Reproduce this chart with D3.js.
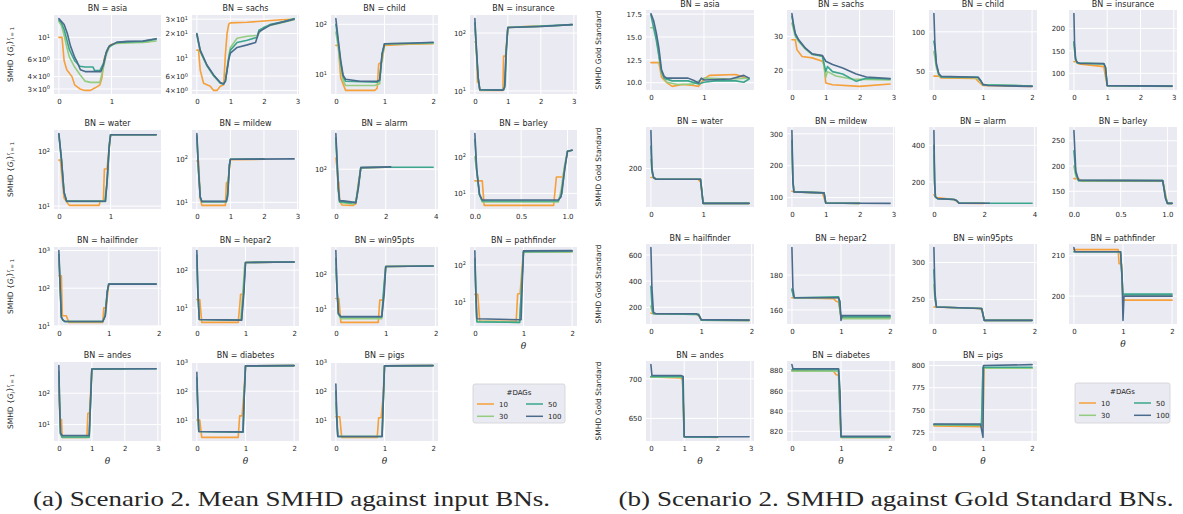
<!DOCTYPE html>
<html>
<head>
<meta charset="utf-8">
<script src="https://cdn.jsdelivr.net/npm/d3@7"></script>
<style>
  body { margin: 0; background: #fff; }
  svg { display: block; font-family: "DejaVu Sans", sans-serif; fill: #262626; }
</style>
</head>
<body>
<svg id="chart" width="1183" height="514"></svg>
<script>
// ---------------------------------------------------------------
// Data: for each network, four series (10, 30, 50, 100 DAGs),
// each a list of [theta, value] points.
// ---------------------------------------------------------------
const dagCounts = [10, 30, 50, 100];
const bnNames = ["asia", "sachs", "child", "insurance", "water", "mildew", "alarm", "barley",
  "hailfinder", "hepar2", "win95pts", "pathfinder", "andes", "diabetes", "pigs"];

// Mean SMHD against the input BNs (log scale)
const meanAsia = [
  [[0,10],[0.06,10],[0.1,5.8],[0.15,4.7],[0.25,4.0],[0.3,3.3],[0.4,3.0],[0.5,2.9],[0.6,2.9],[0.7,3.1],[0.78,3.3],[0.82,3.9],[0.86,6.0],[0.92,7.5],[0.98,8.4],[1.05,8.6],[1.2,8.9],[1.5,9.0],[1.7,9.0],[1.75,9.3]],
  [[0,14.5],[0.05,13.2],[0.1,10.5],[0.15,8.0],[0.2,6.3],[0.3,5.0],[0.4,4.2],[0.5,3.6],[0.6,3.5],[0.78,3.5],[0.85,5.0],[0.9,6.6],[0.95,7.8],[1.0,8.3],[1.1,8.7],[1.3,8.8],[1.6,8.9],[1.85,9.2]],
  [[0,15],[0.05,14],[0.1,12],[0.15,9.5],[0.2,7.5],[0.3,5.8],[0.4,5.1],[0.5,5.0],[0.65,5.0],[0.68,4.6],[0.78,4.6],[0.85,5.5],[0.9,7.0],[0.95,8.0],[1.0,8.3],[1.1,8.9],[1.3,9.0],[1.6,9.1],[1.85,9.6]],
  [[0,15.5],[0.05,14.5],[0.1,13.5],[0.16,11],[0.22,8.2],[0.3,6.3],[0.35,5.6],[0.41,4.7],[0.5,4.5],[0.8,4.5],[0.85,5.3],[0.9,7.0],[0.96,8.2],[1.1,8.9],[1.3,9.1],[1.6,9.2],[1.85,9.7]]
];
const meanSachs = [
  [[0,12.5],[0.05,12.5],[0.1,7.1],[0.2,4.9],[0.4,4.5],[0.5,4.0],[0.6,4.0],[0.7,4.5],[0.8,4.7],[0.85,11],[0.9,20],[0.95,26],[1.0,27],[1.5,27.5],[2.0,28.5],[2.5,29.5],[2.9,30]],
  [[0,19],[0.1,12],[0.3,8.0],[0.5,6.0],[0.7,4.9],[0.8,4.8],[0.85,5.2],[0.95,10.5],[1.0,13.5],[1.2,17.5],[1.5,18.5],[1.8,19],[2.0,24],[2.5,27],[2.9,29.5]],
  [[0,19.5],[0.1,12.2],[0.3,8.1],[0.5,6.1],[0.7,4.9],[0.8,4.8],[0.85,5.2],[0.95,10],[1.0,12.5],[1.2,15.5],[1.5,16.5],[1.8,18],[1.85,22],[2.2,26],[2.6,28],[2.9,30.5]],
  [[0,20],[0.1,12.5],[0.3,8.2],[0.5,6.2],[0.7,5.0],[0.8,4.8],[0.85,5.2],[0.95,9.5],[1.0,11.5],[1.2,13.5],[1.5,14.5],[1.75,15.5],[1.85,21],[2.2,25.5],[2.6,28],[2.9,30]]
];
const meanChild = [
  [[0,38],[0.05,38],[0.1,8.5],[0.2,4.8],[0.8,4.8],[0.85,5.3],[0.88,16],[0.95,18],[1.0,38],[1.5,40],[2.0,41]],
  [[0,70],[0.05,35],[0.1,14],[0.15,7.5],[0.2,6.0],[0.8,6.0],[0.9,6.5],[0.95,22],[1.0,40],[1.5,41],[2.0,42]],
  [[0,100],[0.05,42],[0.1,17],[0.15,9],[0.2,7.3],[0.85,7.0],[0.9,7.5],[0.95,25],[1.0,41],[1.5,42],[2.0,43]],
  [[0,130],[0.05,48],[0.1,19],[0.15,9.5],[0.2,8],[0.5,7.3],[0.85,7.3],[0.9,7.8],[0.95,26],[1.0,41],[1.5,42],[2.0,44]]
];
const meanInsurance = [
  [[0,70],[0.04,70],[0.08,14],[0.12,14],[0.15,10.2],[0.85,10.2],[0.87,40],[0.93,40],[1.0,125],[1.5,130],[2.0,132]],
  [[0,120],[0.05,45],[0.1,16],[0.15,10.3],[0.85,10.3],[0.9,12],[0.95,45],[1.0,125],[2.0,130],[2.95,140]],
  [[0,150],[0.05,48],[0.1,17],[0.15,10.4],[0.88,10.4],[0.92,13],[0.96,55],[1.0,125],[2.0,132],[2.95,140]],
  [[0,178],[0.05,50],[0.1,17],[0.15,10.5],[0.85,10.3],[0.9,11.5],[0.95,50],[1.0,125],[2.0,130],[2.95,140]]
];
const meanWater = [
  [[0,70],[0.03,70],[0.1,14],[0.2,10.3],[0.78,10.3],[0.8,12.5],[0.86,12.5],[0.88,48],[0.93,48],[1.0,205],[1.88,205]],
  [[0,200],[0.05,70],[0.1,18],[0.15,12.5],[0.88,12.5],[0.93,25],[0.97,110],[1.0,205],[1.88,205]],
  [[0,210],[0.05,72],[0.1,18],[0.15,12.2],[0.9,12.2],[0.94,35],[0.98,150],[1.0,205],[1.88,205]],
  [[0,215],[0.05,72],[0.1,18],[0.15,12.3],[0.9,12.3],[0.93,28],[0.97,120],[1.0,205],[1.88,205]]
];
const meanMildew = [
  [[0,89],[0.05,89],[0.1,12],[0.15,8.5],[0.85,8.5],[0.88,28],[0.93,30],[1.0,96],[2.0,98]],
  [[0,300],[0.05,50],[0.1,13],[0.15,10.3],[0.88,10.3],[0.92,18],[0.97,70],[1.0,98],[2.0,100]],
  [[0,340],[0.05,52],[0.1,13.2],[0.15,10.4],[0.88,10.4],[0.92,17],[0.97,75],[1.0,98],[2.0,100]],
  [[0,383],[0.05,55],[0.1,13.3],[0.15,10.5],[0.88,10.5],[0.92,14],[0.97,70],[1.0,98],[2.9,100]]
];
const meanAlarm = [
  [[0,170],[0.05,100],[0.08,54],[0.12,54],[0.15,22],[0.25,18],[0.7,17.7],[0.8,19],[0.85,30],[0.9,50],[1.0,107],[2.0,110]],
  [[0,400],[0.05,120],[0.1,35],[0.15,21],[0.3,20],[0.7,19],[0.8,20],[0.9,40],[1.0,108],[2.0,110]],
  [[0,450],[0.05,130],[0.1,38],[0.15,21],[0.3,21],[0.6,20],[0.8,21],[0.9,45],[1.0,108],[2.0,110],[3.9,110]],
  [[0,550],[0.05,150],[0.1,40],[0.15,22],[0.3,22],[0.6,21],[0.8,20],[0.9,40],[1.0,108],[2.2,112]]
];
const meanBarley = [
  [[0,22],[0.08,22],[0.1,4.7],[0.85,4.7],[0.88,28],[0.95,28],[1.0,142],[1.05,150]],
  [[0,100],[0.02,40],[0.05,9],[0.08,5.8],[0.9,5.8],[0.93,12],[0.97,60],[1.0,142],[1.05,150]],
  [[0,300],[0.02,43],[0.05,9.2],[0.08,6.2],[0.9,6.2],[0.94,10],[0.97,50],[1.0,142],[1.05,150]],
  [[0,430],[0.02,45],[0.05,9.4],[0.08,6.6],[0.9,6.6],[0.93,8],[0.97,45],[1.0,142],[1.05,150]]
];
const meanHailfinder = [
  [[0,215],[0.05,215],[0.07,18.5],[0.15,18.5],[0.2,12.3],[0.88,12.3],[0.9,30],[0.95,30],[1.0,128],[1.95,128]],
  [[0,600],[0.03,80],[0.05,17],[0.08,14],[0.12,13],[0.88,13],[0.93,20],[0.97,80],[1.0,128],[1.95,128]],
  [[0,800],[0.03,82],[0.05,17],[0.08,14.4],[0.12,13],[0.88,13],[0.93,19],[0.97,80],[1.0,128],[1.95,128]],
  [[0,1000],[0.03,82],[0.05,17],[0.08,14.4],[0.12,13],[0.88,13],[0.93,18],[0.97,82],[1.0,128],[1.95,128]]
];
const meanHepar2 = [
  [[0,16.5],[0.06,16.5],[0.1,4.1],[0.85,4.1],[0.88,11],[0.9,23],[0.95,23],[1.0,160],[2.0,165]],
  [[0,150],[0.02,25],[0.05,4.9],[0.9,4.8],[0.95,30],[0.98,120],[1.0,160],[2.0,165]],
  [[0,250],[0.02,27],[0.05,4.9],[0.92,4.7],[0.97,40],[1.0,160],[2.0,165]],
  [[0,330],[0.02,28],[0.05,4.9],[0.92,4.7],[0.97,28],[1.0,160],[2.0,165]]
];
const meanWin95pts = [
  [[0,20],[0.06,20],[0.1,4.0],[0.85,4.0],[0.88,18],[0.95,18],[1.0,175],[1.95,180]],
  [[0,150],[0.02,45],[0.05,7],[0.1,5.1],[0.92,5.1],[0.96,30],[1.0,175],[1.95,180]],
  [[0,300],[0.02,48],[0.05,7.2],[0.1,5.8],[0.92,5.8],[0.96,40],[1.0,175],[1.95,180]],
  [[0,510],[0.02,51],[0.05,7.4],[0.1,5.9],[0.92,5.9],[0.97,28],[1.0,175],[1.95,180]]
];
const meanPathfinder = [
  [[0,16],[0.06,16],[0.1,3.0],[0.85,3.0],[0.88,16.5],[0.93,17],[0.97,80],[1.0,230],[2.0,230]],
  [[0,100],[0.02,15],[0.04,3],[0.92,2.8],[0.97,40],[1.0,225],[2.0,225]],
  [[0,150],[0.02,17],[0.04,2.9],[0.92,2.8],[0.97,45],[1.0,230],[2.0,235]],
  [[0,240],[0.02,19.5],[0.04,3.5],[0.95,3.3],[0.97,19],[1.0,240],[2.0,245]]
];
const meanAndes = [
  [[0,250],[0.03,14.5],[0.08,14.5],[0.1,3.9],[0.85,3.9],[0.88,23],[0.93,23],[1.0,590],[2.0,600]],
  [[0,350],[0.02,50],[0.05,5],[0.1,3.9],[0.92,3.9],[0.97,80],[1.0,590],[2.0,600]],
  [[0,500],[0.02,55],[0.05,5.2],[0.1,4.0],[0.92,4.0],[0.97,90],[1.0,590],[2.95,600]],
  [[0,760],[0.02,57],[0.05,5.4],[0.1,4.5],[0.92,4.5],[0.97,100],[1.0,590],[2.95,600]]
];
const meanDiabetes = [
  [[0,10],[0.06,10],[0.1,2.5],[0.85,2.5],[0.88,14],[0.93,14],[0.97,100],[1.0,760],[2.0,780]],
  [[0,150],[0.02,20],[0.04,4.0],[0.95,3.8],[0.97,50],[1.0,760],[2.0,780]],
  [[0,300],[0.02,22],[0.04,4.0],[0.95,3.8],[0.97,60],[1.0,760],[2.0,780]],
  [[0,460],[0.02,25],[0.04,4.0],[0.95,3.9],[0.97,40],[1.0,760],[2.0,780]]
];
const meanPigs = [
  [[0,13],[0.08,13],[0.12,2.5],[0.85,2.5],[0.88,12],[0.93,12],[0.97,60],[1.0,760],[2.0,780]],
  [[0,40],[0.02,8],[0.04,2.7],[0.95,2.7],[0.97,20],[1.0,760],[2.0,780]],
  [[0,100],[0.02,10],[0.04,2.7],[0.95,2.7],[0.97,30],[1.0,760],[2.0,780]],
  [[0,180],[0.02,12],[0.04,2.7],[0.95,2.7],[0.97,25],[1.0,760],[2.0,780]]
];

// SMHD against the gold standard BNs (linear scale)
const goldAsia = [
  [[0,12.2],[0.15,12.2],[0.2,10.6],[0.3,10.0],[0.4,9.6],[0.6,9.8],[0.8,9.7],[0.9,9.6],[1.0,10.4],[1.1,10.8],[1.6,10.9],[1.8,10.5]],
  [[0,16],[0.05,16],[0.1,15.3],[0.15,12.9],[0.2,11.0],[0.3,10.05],[0.5,9.8],[0.8,9.85],[0.9,10.2],[1.0,10.5],[1.5,10.4],[1.85,10.5]],
  [[0,17.4],[0.1,14.7],[0.2,11.2],[0.25,10.5],[0.4,10.2],[0.7,10.2],[0.9,9.85],[1.0,10.05],[1.2,10.2],[1.6,10.2],[1.75,10.05],[1.85,10.4]],
  [[0,17.55],[0.05,16.8],[0.1,15.5],[0.15,13.8],[0.2,11.4],[0.25,10.7],[0.3,10.5],[0.7,10.5],[0.8,10.26],[0.9,9.97],[0.95,10.5],[1.0,10.3],[1.5,10.4],[1.75,10.8],[1.85,10.5]]
];
const goldSachs = [
  [[0,29],[0.1,29],[0.15,26],[0.3,24],[0.6,23.6],[0.9,22.6],[0.95,21.5],[1.0,16.1],[1.2,15.6],[2.0,15.1],[2.9,15.8]],
  [[0,34],[0.1,30],[0.2,28.5],[0.4,26.2],[0.6,24.6],[0.9,24],[1.0,17.8],[1.05,19.5],[1.3,18.2],[1.8,17.2],[2.2,17.2],[2.9,17]],
  [[0,36],[0.05,33],[0.1,30.5],[0.2,28.8],[0.4,26.4],[0.6,24.7],[0.9,24.2],[1.0,19.5],[1.05,21],[1.2,19.5],[1.5,18.8],[1.9,16.6],[2.2,17.5],[2.9,17.3]],
  [[0,36.8],[0.05,33.4],[0.1,30.9],[0.2,29],[0.4,26.5],[0.6,24.8],[0.9,24.3],[1.0,22.6],[1.2,21.6],[1.5,20.6],[1.9,18.8],[2.2,17.9],[2.9,17.4]]
];
const goldChild = [
  [[0,44],[0.1,44],[0.15,41.5],[0.85,41],[0.9,37.5],[1.0,32],[2.0,31]],
  [[0,75],[0.05,55],[0.1,45],[0.15,42.5],[0.85,42],[0.95,38],[1.0,33],[2.0,31.5]],
  [[0,88],[0.02,80],[0.05,58],[0.1,46],[0.15,43],[0.9,42.5],[0.95,38.5],[1.0,33],[2.0,31.5]],
  [[0,123],[0.02,85],[0.05,60],[0.1,47],[0.15,43.6],[0.9,42.5],[0.95,38.5],[1.0,33.5],[1.1,32],[2.0,31]]
];
const goldInsurance = [
  [[0,126],[0.1,126],[0.15,121],[0.9,115],[0.93,100.7],[1.0,73],[2.0,72]],
  [[0,165],[0.05,130],[0.1,123],[0.9,121],[0.95,113],[1.0,72.6],[2.95,71]],
  [[0,170],[0.05,131],[0.1,123],[0.9,121],[0.95,113],[1.0,72.6],[2.95,71.5]],
  [[0,233],[0.02,165],[0.05,132],[0.1,124.4],[0.2,122],[0.9,122],[0.95,113],[1.0,72.6],[2.95,71.5]]
];
const goldWater = [
  [[0,180],[0.05,180],[0.1,176],[0.9,176],[0.95,170],[1.0,122],[1.88,122]],
  [[0,220],[0.02,190],[0.05,180],[0.1,176],[0.95,176],[1.0,122],[1.88,122]],
  [[0,250],[0.02,195],[0.05,180],[0.1,176],[0.95,176],[1.0,122],[1.88,122]],
  [[0,285],[0.02,200],[0.05,180],[0.1,176],[0.95,176],[1.0,122],[1.88,122]]
];
const goldMildew = [
  [[0,120],[0.1,118],[0.9,115],[1.0,83],[2.0,82]],
  [[0,250],[0.03,150],[0.06,118],[0.95,115],[1.0,83],[2.0,82]],
  [[0,280],[0.03,150],[0.06,118],[0.95,115],[1.0,83],[2.0,82]],
  [[0,310],[0.03,150],[0.06,118],[0.95,115],[1.0,83],[2.9,82]]
];
const goldAlarm = [
  [[0,130],[0.1,115],[0.8,105],[1.0,85],[2.0,84]],
  [[0,350],[0.03,180],[0.06,118],[0.15,110],[0.8,105],[0.9,100],[1.0,85],[2.0,85]],
  [[0,400],[0.03,190],[0.06,118],[0.15,110],[0.8,105],[0.9,100],[1.0,85],[3.9,85]],
  [[0,480],[0.03,200],[0.06,120],[0.15,110],[0.8,105],[0.9,100],[1.0,85],[2.2,85]]
];
const goldBarley = [
  [[0,175],[0.05,175],[0.08,170],[0.95,170],[1.0,126],[1.05,126]],
  [[0,200],[0.02,180],[0.05,171],[0.95,171],[0.98,140],[1.0,126],[1.05,126]],
  [[0,230],[0.02,185],[0.05,171],[0.95,171],[0.98,138],[1.0,126],[1.05,126]],
  [[0,270],[0.02,190],[0.05,172],[0.95,171],[0.98,135],[1.0,126],[1.05,126]]
];
const goldHailfinder = [
  [[0,155],[0.1,150],[0.9,148],[0.95,135],[1.0,102],[1.95,100]],
  [[0,210],[0.02,170],[0.05,150],[0.95,146],[1.0,102],[1.95,100]],
  [[0,360],[0.02,210],[0.05,150],[0.95,146],[1.0,102],[1.95,100]],
  [[0,656],[0.02,350],[0.05,162],[0.1,150],[0.9,150],[0.95,140],[1.0,106],[1.95,102]]
];
const goldHepar2 = [
  [[0,167],[0.85,166.5],[0.9,165],[0.95,164.5],[1.0,156],[2.0,156]],
  [[0,171.5],[0.03,168],[0.05,167],[0.95,167],[1.0,155],[2.0,155]],
  [[0,172],[0.03,168],[0.05,167],[0.95,167.5],[1.0,156],[2.0,156]],
  [[0,195.8],[0.02,172.6],[0.05,167],[0.95,167],[0.98,165],[1.0,154],[1.02,156.8],[2.0,156.8]]
];
const goldWin95pts = [
  [[0,240],[0.9,238],[0.95,236],[1.0,222],[1.95,222]],
  [[0,270],[0.02,250],[0.05,240],[0.95,238],[1.0,222],[1.95,222]],
  [[0,290],[0.02,255],[0.05,240],[0.95,238],[1.0,222],[1.95,222]],
  [[0,320],[0.02,260],[0.05,240],[0.95,238],[1.0,222],[1.95,222]]
];
const goldPathfinder = [
  [[0,211.5],[0.9,211.5],[0.92,208],[0.97,208],[1.0,199],[2.0,199]],
  [[0,211],[0.95,211],[1.0,200],[2.0,200]],
  [[0,211],[0.95,211],[1.0,200.5],[2.0,200.5]],
  [[0,212],[0.02,211],[0.95,211],[0.98,205],[1.0,194],[1.02,200],[2.0,200]]
];
const goldAndes = [
  [[0,702.5],[0.9,701],[0.95,699],[1.0,627],[2.0,626]],
  [[0,702],[0.95,702],[1.0,626.5],[2.0,626.5]],
  [[0,703],[0.95,703],[1.0,626.5],[2.0,626.3]],
  [[0,718],[0.03,704.2],[0.9,704.2],[0.97,703],[1.0,626.7],[2.95,626.7]]
];
const goldDiabetes = [
  [[0,880],[0.85,879.5],[0.9,876],[0.95,875.5],[1.0,814],[2.0,814]],
  [[0,879.5],[0.95,879.5],[1.0,814],[2.0,814]],
  [[0,881],[0.95,881],[1.0,814.5],[2.0,814.5]],
  [[0,886],[0.02,882],[0.95,882],[0.98,860],[1.0,815],[2.0,815]]
];
const goldPigs = [
  [[0,732],[0.95,731],[1.0,731],[1.02,797],[2.0,797]],
  [[0,733],[0.97,732.5],[1.0,797],[2.0,797]],
  [[0,733.5],[0.97,733],[1.0,798],[2.0,798]],
  [[0,734],[0.95,734],[0.99,722],[1.0,719],[1.01,800],[2.0,801]]
];

const meanSeries = [meanAsia, meanSachs, meanChild, meanInsurance, meanWater, meanMildew, meanAlarm,
  meanBarley, meanHailfinder, meanHepar2, meanWin95pts, meanPathfinder, meanAndes, meanDiabetes, meanPigs];
const goldSeries = [goldAsia, goldSachs, goldChild, goldInsurance, goldWater, goldMildew, goldAlarm,
  goldBarley, goldHailfinder, goldHepar2, goldWin95pts, goldPathfinder, goldAndes, goldDiabetes, goldPigs];

// Tick values
const xTicks = [[0,1],[0,1,2,3],[0,1,2],[0,1,2,3],[0,1],[0,1,2,3],[0,2,4],[0,0.5,1],
  [0,1,2],[0,1,2],[0,1,2],[0,1,2],[0,1,2,3],[0,1,2],[0,1,2]];
const meanYTicks = [[3,4,6,10],[4,6,10,20,30],[10,100],[10,100],[10,100],[10,100],[100],[10,100],
  [10,100,1000],[10,100],[10,100],[10,100],[10,100,1000],[10,100,1000],[10,100,1000]];
const goldYTicks = [[10,12.5,15,17.5],[20,30],[50,100],[100,150,200],[100,200],[100,200,300],[200,400],
  [150,200,250],[200,400,600],[160,180],[250,300],[200,210,220],[650,700],[820,840,860,880],[725,750,775,800]];

const palette = ["#f5a03a", "#94cc80", "#3ba68c", "#4a6b8b"];

// ---------------------------------------------------------------
const svg = d3.select("#chart");
let clipId = 0;

function supLabel(sel, v) {
  // log tick label as m×10^k
  const k = Math.round(Math.floor(Math.log10(v) + 1e-9));
  const m = Math.round(v / Math.pow(10, k));
  sel.text(null);
  sel.append("tspan").text(m === 1 ? "10" : m + "\u00d710");
  sel.append("tspan").attr("dy", "-0.45em").attr("font-size", "0.72em").text(k);
}

function drawPanel(p) {
  const g = svg.append("g");
  p.series.forEach((ser, i) => {
    const row = Math.floor(i / 4), col = i % 4;
    const x0 = p.lefts[col], y0 = p.tops[row], w = p.w, h = p.h;
    const pts = ser.flat();
    const xe = d3.extent(pts, d => d[0]);
    const xp = (xe[1] - xe[0]) * 0.05;
    const x = d3.scaleLinear().domain([xe[0] - xp, xe[1] + xp]).range([x0, x0 + w]);
    let y;
    if (p.log) {
      const le = d3.extent(pts, d => Math.log10(d[1]));
      const lp = (le[1] - le[0]) * 0.05;
      y = d3.scaleLog().domain([Math.pow(10, le[0] - lp), Math.pow(10, le[1] + lp)]).range([y0 + h, y0]);
    } else {
      const ye = d3.extent(pts, d => d[1]);
      const yp = (ye[1] - ye[0]) * 0.05;
      y = d3.scaleLinear().domain([ye[0] - yp, ye[1] + yp]).range([y0 + h, y0]);
    }
    const sub = g.append("g");
    sub.append("rect").attr("x", x0).attr("y", y0).attr("width", w).attr("height", h).attr("fill", "#eaeaf2");

    const xt = xTicks[i].filter(t => t >= x.domain()[0] && t <= x.domain()[1]);
    const yd = y.domain();
    const yt = p.yTicks[i].filter(t => t >= yd[0] && t <= yd[1]);

    // grid
    sub.selectAll(".gx").data(xt).join("line")
      .attr("x1", d => x(d)).attr("x2", d => x(d)).attr("y1", y0).attr("y2", y0 + h)
      .attr("stroke", "#fff").attr("stroke-width", 1);
    sub.selectAll(".gy").data(yt).join("line")
      .attr("y1", d => y(d)).attr("y2", d => y(d)).attr("x1", x0).attr("x2", x0 + w)
      .attr("stroke", "#fff").attr("stroke-width", 1);

    // axes
    const xFmt = xt.some(t => t % 1 !== 0) ? d3.format(".1f") : d3.format("d");
    const xa = sub.append("g").attr("transform", `translate(0,${y0 + h})`)
      .call(d3.axisBottom(x).tickValues(xt).tickSize(0).tickPadding(5).tickFormat(xFmt));
    xa.select(".domain").remove();
    xa.attr("font-family", null).attr("font-size", null);
    xa.selectAll("text").attr("font-size", 7).attr("fill", "#262626");

    const ya = sub.append("g").attr("transform", `translate(${x0},0)`)
      .call(d3.axisLeft(y).tickValues(yt).tickSize(0).tickPadding(4)
        .tickFormat(p.log ? (() => "") : (yt.some(t => t % 1 !== 0) ? d3.format(".1f") : d3.format("d"))));
    ya.select(".domain").remove();
    ya.attr("font-family", null).attr("font-size", null);
    ya.selectAll("text").attr("font-size", 7).attr("fill", "#262626");
    if (p.log) ya.selectAll("text").each(function(d) { supLabel(d3.select(this), d); });

    // lines
    const cid = "clip" + (clipId++);
    sub.append("clipPath").attr("id", cid).append("rect")
      .attr("x", x0).attr("y", y0).attr("width", w).attr("height", h);
    const line = d3.line().x(d => x(d[0])).y(d => y(d[1]));
    sub.append("g").attr("clip-path", `url(#${cid})`)
      .selectAll("path").data(ser).join("path")
      .attr("d", line).attr("fill", "none")
      .attr("stroke", (d, j) => palette[j]).attr("stroke-width", 1.6)
      .attr("stroke-linejoin", "round").attr("stroke-linecap", "round");

    // title
    sub.append("text").attr("x", x0 + w / 2).attr("y", y0 - p.titleGap).attr("text-anchor", "middle")
      .attr("font-size", 8).text("BN = " + bnNames[i]);

    // theta label under the lowest plot of each column
    if (row === 3 || (row === 2 && col === 3)) {
      sub.append("text").attr("x", x0 + w / 2).attr("y", y0 + h + 23).attr("text-anchor", "middle")
        .attr("font-size", 9).attr("font-style", "italic").attr("font-family", "DejaVu Serif").text("\u03b8");
    }
    // y label on the first column
    if (col === 0) {
      const t = sub.append("text").attr("transform", `translate(${p.ylabX},${y0 + h / 2}) rotate(-90)`)
        .attr("text-anchor", "middle").attr("font-size", 7.5);
      p.ylabel(t);
    }
  });

  // legend
  const L = p.legend;
  const lg = g.append("g");
  lg.append("rect").attr("x", L.x).attr("y", L.y).attr("width", L.w).attr("height", L.h)
    .attr("rx", 2).attr("fill", "#eaeaf2").attr("stroke", "#d0d0d6").attr("stroke-width", 0.8);
  lg.append("text").attr("x", L.x + L.w / 2).attr("y", L.y + 11).attr("text-anchor", "middle")
    .attr("font-size", 7).text("#DAGs");
  dagCounts.forEach((n, j) => {
    const c = j < 2 ? 0 : 1, r = j % 2;
    const lx = L.x + 4 + c * L.colStep, ly = L.y + 20 + r * 12.3;
    lg.append("line").attr("x1", lx).attr("x2", lx + 17).attr("y1", ly).attr("y2", ly)
      .attr("stroke", palette[j]).attr("stroke-width", 1.5);
    lg.append("text").attr("x", lx + 22).attr("y", ly + 2.5).attr("font-size", 7).text(n);
  });

  // caption
  g.append("text").attr("x", p.caption.x).attr("y", 506).attr("text-anchor", "middle")
    .attr("font-family", "Liberation Serif, serif").attr("font-size", 21)
    .attr("textLength", p.caption.len).attr("lengthAdjust", "spacingAndGlyphs")
    .text(p.caption.text);
}

drawPanel({
  series: meanSeries, yTicks: meanYTicks, log: true,
  lefts: [54, 192, 331, 470], tops: [15, 130, 247, 362], w: 107, h: 79, titleGap: 4,
  ylabX: 13,
  ylabel: t => {
    t.append("tspan").text("SMHD  {");
    t.append("tspan").attr("font-style", "italic").text("G");
    t.append("tspan").attr("font-style", "italic").attr("font-size", "0.7em").attr("dy", "0.3em").text("i");
    t.append("tspan").attr("dy", "-0.3em").text("}");
    t.append("tspan").attr("font-style", "italic").attr("font-size", "0.7em").attr("dy", "-0.4em").text("r");
    t.append("tspan").attr("font-size", "0.7em").attr("dy", "0.8em").attr("dx", "-0.3em").text("i = 1");
  },
  legend: { x: 473, y: 384, w: 92, h: 39, colStep: 49 },
  caption: { x: 291.5, len: 517, text: "(a) Scenario 2. Mean SMHD against input BNs." }
});

drawPanel({
  series: goldSeries, yTicks: goldYTicks, log: false,
  lefts: [646, 787, 929, 1069], tops: [10, 127, 244, 361], w: 108, h: 80, titleGap: 3,
  ylabX: 601,
  ylabel: t => t.text("SMHD Gold Standard"),
  legend: { x: 1075, y: 383, w: 95, h: 40, colStep: 55 },
  caption: { x: 896, len: 555, text: "(b) Scenario 2. SMHD against Gold Standard BNs." }
});
</script>
</body>
</html>
